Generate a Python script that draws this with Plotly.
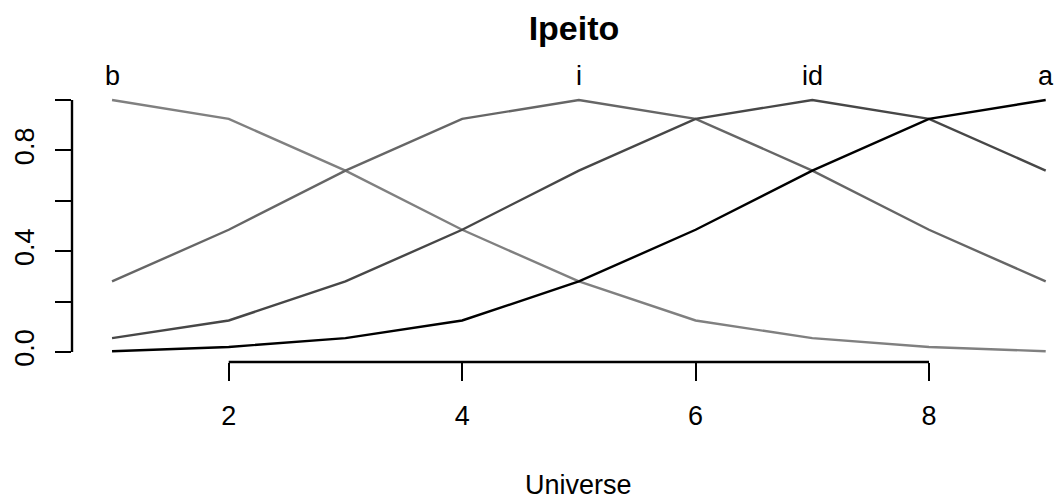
import plotly.graph_objects as go

# Universe of discourse and fuzzy set memberships for "Ipeito"
universe = [1, 2, 3, 4, 5, 6, 7, 8, 9]
set_names = ["b", "i", "id", "a"]
set_peaks = [1, 5, 7, 9]
mf_b = [1.0, 0.925, 0.72, 0.485, 0.28, 0.125, 0.055, 0.02, 0.003]
mf_i = [0.28, 0.485, 0.72, 0.925, 1.0, 0.925, 0.72, 0.485, 0.28]
mf_id = [0.055, 0.125, 0.28, 0.485, 0.72, 0.925, 1.0, 0.925, 0.72]
mf_a = [0.003, 0.02, 0.055, 0.125, 0.28, 0.485, 0.72, 0.925, 1.0]
line_colors = ["#808080", "#666666", "#474747", "#000000"]

x_ticks = [2, 4, 6, 8]
y_ticks = [0, 0.2, 0.4, 0.6, 0.8, 1.0]
y_tick_text = ["0.0", "", "0.4", "", "0.8", ""]

FONT = "Liberation Sans, Arial, Helvetica, sans-serif"

fig = go.Figure()
for name, vals, col in zip(set_names, [mf_b, mf_i, mf_id, mf_a], line_colors):
    fig.add_trace(go.Scatter(x=universe, y=vals, mode="lines", name=name,
                             line=dict(color=col, width=2.4)))

# set labels above each peak
for name, peak in zip(set_names, set_peaks):
    fig.add_annotation(x=peak, y=1, xref="x", yref="y", text=name, showarrow=False,
                       yanchor="bottom", yshift=7,
                       font=dict(size=27, color="black", family=FONT))

# axis lines spanning only the tick range
fig.add_shape(type="line", xref="x", yref="paper", x0=x_ticks[0], x1=x_ticks[-1],
              y0=0, y1=0, line=dict(color="black", width=2.4))
fig.add_shape(type="line", xref="paper", yref="y", x0=0, x1=0,
              y0=y_ticks[0], y1=y_ticks[-1], line=dict(color="black", width=2.4))

fig.add_annotation(x=0.5126, y=-0.452, xref="paper", yref="paper", text="Universe",
                   showarrow=False, yanchor="middle",
                   font=dict(size=27, color="black", family=FONT))

fig.update_layout(
    width=1061, height=503,
    margin=dict(l=72, r=0, t=90, b=141),
    paper_bgcolor="white", plot_bgcolor="white",
    showlegend=False,
    title=dict(text="<b>Ipeito</b>", x=0.541, xanchor="center",
               y=1 - 28 / 503, yanchor="middle",
               font=dict(size=34, color="black", family=FONT)),
    font=dict(family=FONT, color="black"),
)
fig.update_xaxes(range=[0.657, 9.131], showgrid=False, zeroline=False, showline=False,
                 tickvals=x_ticks, ticks="outside", ticklen=18, tickwidth=2.4,
                 tickcolor="black", ticklabelstandoff=12,
                 tickfont=dict(size=27, family=FONT, color="black"))
fig.update_yaxes(range=[-0.0397, 1.0397], showgrid=False, zeroline=False, showline=False,
                 tickvals=y_ticks, ticktext=y_tick_text, ticks="outside", ticklen=16,
                 tickwidth=2.4, tickcolor="black", tickangle=-90, ticklabelstandoff=10,
                 tickfont=dict(size=27, family=FONT, color="black"))

fig.write_html("out.html")
